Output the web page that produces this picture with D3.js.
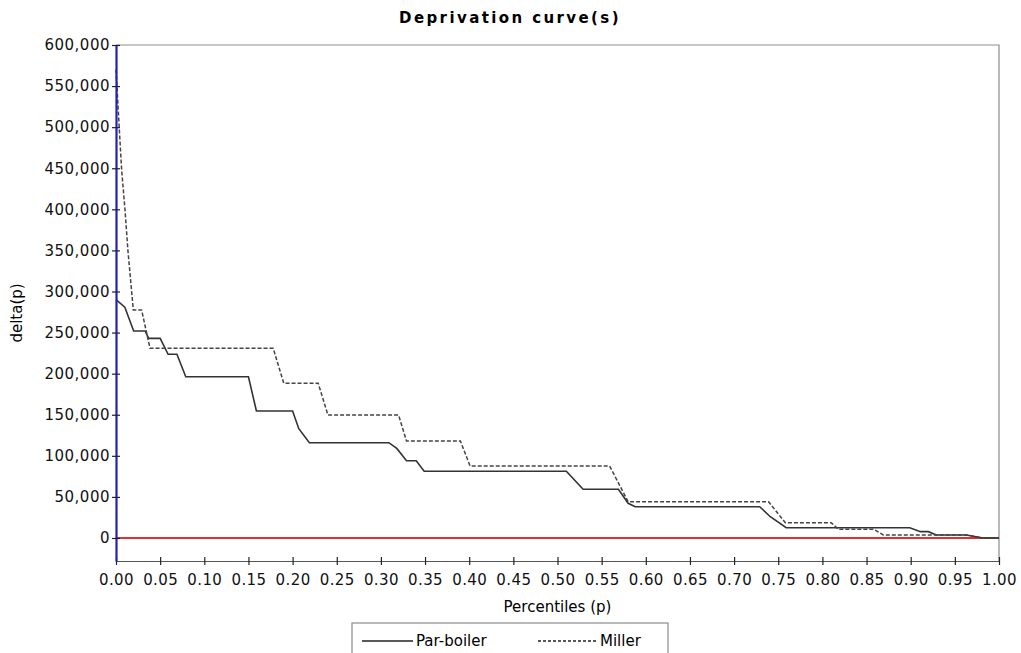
<!DOCTYPE html>
<html>
<head>
<meta charset="utf-8">
<script src="https://cdn.jsdelivr.net/npm/d3@7"></script>
<style>
  body { margin: 0; background: #fff; }
  svg { display: block; font-family: "DejaVu Sans", Verdana, sans-serif; }
</style>
</head>
<body>
<svg id="chart"></svg>
<script>
// percentiles and delta(p) values
const parP = [0, 0.010, 0.020, 0.033, 0.037, 0.050, 0.059, 0.069, 0.079, 0.150, 0.159, 0.200, 0.207, 0.219,
  0.309, 0.318, 0.329, 0.340, 0.349, 0.510, 0.529, 0.569, 0.580, 0.588, 0.729, 0.741, 0.759,
  0.899, 0.911, 0.920, 0.929, 0.963, 0.982, 1.0];
const parVals = [290000, 281000, 252000, 252000, 243000, 243000, 223600, 223600, 196300, 196300, 154600, 154600, 133000, 116000,
  116000, 109000, 94100, 94100, 81200, 81200, 59300, 59300, 42200, 38100, 38100, 25900, 12500,
  12500, 7700, 7700, 3650, 3650, 0, 0];

const millerP = [0, 0.0038, 0.0064, 0.0102, 0.0135, 0.0196, 0.029, 0.0385, 0.178, 0.190, 0.229, 0.240,
  0.320, 0.329, 0.390, 0.401, 0.559, 0.580, 0.739, 0.758, 0.810, 0.818, 0.858, 0.869, 0.963, 0.982, 1.0];
const millerVals = [570000, 496600, 447900, 399200, 350000, 277500, 277500, 230900, 230900, 188300, 188300, 149700,
  149700, 118100, 118100, 87600, 87600, 44200, 44200, 18600, 18600, 10600, 10600, 3650, 3650, 0, 0];

const xTicks = d3.range(0, 21).map(i => i * 0.05);
const yTicks = d3.range(0, 13).map(i => i * 50000);
const seriesNames = ["Par-boiler", "Miller"];

const width = 1021, height = 653;
const plot = { left: 116, right: 999, top: 45, bottom: 561 };

const svg = d3.select("#chart").attr("width", width).attr("height", height);

const x = d3.scaleLinear().domain([0, 1]).range([plot.left, plot.right]);
const y = d3.scaleLinear().domain([-28000, 600000]).range([plot.bottom, plot.top]);

// frame (top and right borders)
svg.append("path")
  .attr("d", `M${plot.left},${plot.top}H${plot.right}V${plot.bottom}`)
  .attr("fill", "none")
  .attr("stroke", "#8c8c8c")
  .attr("stroke-width", 1.2);

// zero line
svg.append("line")
  .attr("x1", x(0)).attr("x2", x(1))
  .attr("y1", y(0)).attr("y2", y(0))
  .attr("stroke", "#e03030")
  .attr("stroke-width", 2);

const line = d3.line().x(d => x(d[0])).y(d => y(d[1]));

svg.append("path")
  .datum(parP.map((p, i) => [p, parVals[i]]))
  .attr("d", line)
  .attr("fill", "none")
  .attr("stroke", "#333")
  .attr("stroke-width", 1.6);

svg.append("path")
  .datum(millerP.map((p, i) => [p, millerVals[i]]))
  .attr("d", line)
  .attr("fill", "none")
  .attr("stroke", "#444")
  .attr("stroke-width", 1.5)
  .attr("stroke-dasharray", "4,2");

// x axis
const xAxis = svg.append("g")
  .attr("transform", `translate(0,${plot.bottom})`)
  .call(d3.axisBottom(x).tickValues(xTicks).tickFormat(d3.format(".2f")).tickSize(4).tickSizeOuter(0));
xAxis.select(".domain").attr("stroke", "#555").attr("stroke-width", 1.2);
xAxis.selectAll(".tick line").attr("y1", -4).attr("stroke", "#222").attr("stroke-width", 1.2);
xAxis.selectAll(".tick text")
  .attr("y", 13)
  .attr("font-size", 15)
  .attr("letter-spacing", 0.4)
  .attr("fill", "#111")
  .attr("font-family", "DejaVu Sans");

// y axis
const yAxis = svg.append("g")
  .attr("transform", `translate(${plot.left},0)`)
  .call(d3.axisLeft(y).tickValues(yTicks).tickFormat(d3.format(",")).tickSize(4).tickSizeOuter(0));
yAxis.select(".domain").attr("stroke", "#2020c0").attr("stroke-width", 2.2);
yAxis.selectAll(".tick line").attr("x1", -4).attr("x2", 4).attr("stroke", "#222").attr("stroke-width", 1.2);
yAxis.selectAll(".tick text")
  .attr("x", -6)
  .attr("font-size", 15)
  .attr("letter-spacing", 0.5)
  .attr("fill", "#111")
  .attr("font-family", "DejaVu Sans");
yAxis.raise();

// title
svg.append("text")
  .attr("x", 510).attr("y", 23)
  .attr("text-anchor", "middle")
  .attr("font-size", 15)
  .attr("font-weight", "bold")
  .attr("letter-spacing", 2.4)
  .text("Deprivation curve(s)");

// axis labels
svg.append("text")
  .attr("x", (plot.left + plot.right) / 2).attr("y", 612)
  .attr("text-anchor", "middle")
  .attr("font-size", 15)
  .text("Percentiles (p)");

svg.append("text")
  .attr("transform", `translate(22,${(plot.top + plot.bottom) / 2 + 10}) rotate(-90)`)
  .attr("text-anchor", "middle")
  .attr("font-size", 15)
  .text("delta(p)");

// legend
const legend = svg.append("g");
legend.append("rect")
  .attr("x", 352).attr("y", 623)
  .attr("width", 316).attr("height", 34)
  .attr("fill", "#fff")
  .attr("stroke", "#8c8c8c")
  .attr("stroke-width", 1.2);

const legendItems = [
  { name: seriesNames[0], x0: 362, x1: 413, dash: null },
  { name: seriesNames[1], x0: 538, x1: 597, dash: "3,2" }
];
legendItems.forEach(d => {
  legend.append("line")
    .attr("x1", d.x0).attr("x2", d.x1)
    .attr("y1", 641).attr("y2", 641)
    .attr("stroke", "#222")
    .attr("stroke-width", 1.3)
    .attr("stroke-dasharray", d.dash);
  legend.append("text")
    .attr("x", d.x1 + 3).attr("y", 646)
    .attr("font-size", 15)
    .text(d.name);
});
</script>
</body>
</html>
